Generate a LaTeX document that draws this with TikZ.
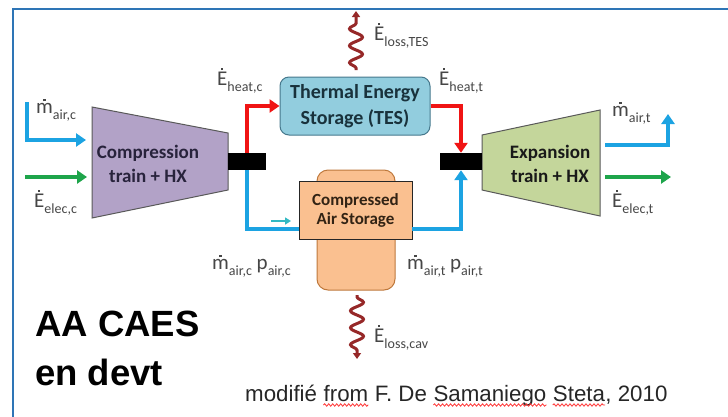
\documentclass[tikz,border=0pt]{standalone}
\usepackage{fontspec}
\setmainfont{Carlito}
\newfontfamily\arialf{Liberation Sans}
\usetikzlibrary{arrows.meta,decorations.pathmorphing}
\definecolor{framebl}{RGB}{46,117,182}
\definecolor{flowbl}{RGB}{28,163,226}
\definecolor{flowrd}{RGB}{240,20,20}
\definecolor{flowgr}{RGB}{30,165,75}
\definecolor{purp}{RGB}{178,162,199}
\definecolor{olive}{RGB}{196,214,155}
\definecolor{tesfill}{RGB}{146,205,222}
\definecolor{tesdraw}{RGB}{70,120,140}
\definecolor{casfill}{RGB}{250,192,144}
\definecolor{casdraw}{RGB}{190,120,60}
\definecolor{lossrd}{RGB}{150,40,40}
\definecolor{lblgray}{RGB}{70,70,70}
\definecolor{tealar}{RGB}{50,185,195}
\newcommand\dotm{\ooalign{m\cr\hidewidth\raisebox{0.56em}{\rule{2.3pt}{2.3pt}}\hidewidth\cr}}
\newcommand\dotE{\ooalign{E\cr\hidewidth\raisebox{0.74em}{\rule{2.3pt}{2.3pt}}\hidewidth\cr}}
\newcommand\lsb[1]{\raisebox{-0.3em}{\fontsize{14}{14}\selectfont #1}}
\begin{document}
\begin{tikzpicture}[x=1pt,y=-1pt,
  flow/.style={line width=4.5pt,-{Triangle[width=13pt,length=10pt]}},
  lbl/.style={inner sep=0pt,anchor=west,text=lblgray,font=\fontsize{21}{21}\selectfont},
  boxtxt/.style={inner sep=0pt,align=center,font=\bfseries\fontsize{19}{24}\selectfont},
  bar/.style={fill=black,draw=none,minimum height=17pt,inner sep=0pt},
  loss/.style={draw=lossrd,line width=3pt,decorate,decoration={snake,amplitude=6.5pt,segment length=17pt,pre length=2pt,post length=5pt},-{Triangle[width=8pt,length=6pt]}},
  credit/.style={inner sep=0pt,anchor=base west,font=\arialf\fontsize{22.3}{22.3}\selectfont,text=black!85},
  spell/.style={draw=red!80,line width=0.8pt,decorate,decoration={snake,amplitude=1.2pt,segment length=4pt}},
  big/.style={inner sep=0pt,anchor=base west,font=\arialf\bfseries\fontsize{36.5}{36.5}\selectfont}]
\useasboundingbox (0,0) rectangle (728,416);
% frame
\coordinate (frBL) at (13,420);
\coordinate (frTL) at (13,9);
\coordinate (frTR) at (732,9);
\draw[framebl,line width=2pt] (frBL) -- (frTL) -- (frTR);
% trapezoids
\coordinate (c1) at (92,107); \coordinate (c2) at (228,133);
\coordinate (c3) at (228,190); \coordinate (c4) at (92,218);
\draw[draw=black!65,fill=purp,line width=1pt] (c1) -- (c2) -- (c3) -- (c4) -- cycle;
\coordinate (e1) at (482,135); \coordinate (e2) at (600,110);
\coordinate (e3) at (600,216); \coordinate (e4) at (482,190);
\draw[draw=black!65,fill=olive,line width=1pt] (e1) -- (e2) -- (e3) -- (e4) -- cycle;
\node[boxtxt,text={rgb,255:red,40;green,35;blue,60}] (comp) at (148,164) {Compression\\train + HX};
\node[boxtxt,text=black!90] (expa) at (550,164) {Expansion\\train + HX};
% bars
\node[bar,minimum width=38pt] (barL) at (247,161.5) {};
\node[bar,minimum width=42pt] (barR) at (461,161.5) {};
% TES
\node[draw=tesdraw,fill=tesfill,rounded corners=9pt,line width=1pt,minimum width=150pt,minimum height=58pt,boxtxt,font=\bfseries\fontsize{20}{26}\selectfont,text={rgb,255:red,25;green,50;blue,60}] (tes) at (355,106) {Thermal Energy\\Storage (TES)};
% CAS
\node[draw=casdraw,fill=casfill,rounded corners=11pt,line width=1pt,minimum width=78pt,minimum height=120pt] (casback) at (356,230) {};
\node[draw=black!85,fill=casfill,line width=1pt,minimum width=113pt,minimum height=58pt,inner sep=0pt,align=center,font=\bfseries\fontsize{17}{19}\selectfont,text={rgb,255:red,50;green,35;blue,20}] (cas) at (355.5,210) {Compressed\\Air Storage};
% red heat flows
\draw[flow,flowrd] (barL.north) |- (tes.west);
\draw[flow,flowrd] (tes.east) -| (barR.north);
% blue air flows to/from storage
\coordinate (casInL) at (299,229);
\coordinate (casOutR) at (412,229);
\draw[flowbl,line width=4.5pt] (barL.south) |- (casInL);
\draw[flow,flowbl] (casOutR) -| (barR.south);
\coordinate (tealA) at (271,221); \coordinate (tealB) at (291,221);
\draw[tealar,line width=2.5pt,-{Triangle[width=7pt,length=6pt]}] (tealA) -- (tealB);
% left inputs
\coordinate (mairS) at (27,102); \coordinate (mairE) at (86,140);
\draw[flow,flowbl] (mairS) |- (mairE);
\coordinate (elcS) at (25,177); \coordinate (elcE) at (87,177);
\draw[flow,flowgr] (elcS) -- (elcE);
% right outputs
\coordinate (martS) at (605,145); \coordinate (martE) at (668,114);
\draw[flow,flowbl] (martS) -| (martE);
\coordinate (eltS) at (605,177); \coordinate (eltE) at (671,177);
\draw[flow,flowgr] (eltS) -- (eltE);
% losses
\coordinate (lt1) at (356,70); \coordinate (lt2) at (356,11);
\draw[loss] (lt1) -- (lt2);
\coordinate (lc1) at (357,295); \coordinate (lc2) at (357,359);
\draw[loss] (lc1) -- (lc2);
% labels
\node[lbl] (Lmairc) at (36,112) {\dotm\lsb{air,c}};
\node[lbl] (Lelecc) at (34,205) {\dotE\lsb{elec,c}};
\node[lbl] (Lheatc) at (217,83) {\dotE\lsb{heat,c}};
\node[lbl] (Lheatt) at (439,83) {\dotE\lsb{heat,t}};
\node[lbl] (Llosst) at (374,38) {\dotE\lsb{loss,TES}};
\node[lbl] (Lmairt) at (612,115) {\dotm\lsb{air,t}};
\node[lbl] (Lelect) at (612,205) {\dotE\lsb{elec,t}};
\node[lbl] (Lmpc) at (212,268) {\dotm\lsb{air,c} p\lsb{air,c}};
\node[lbl] (Lmpt) at (407,268) {\dotm\lsb{air,t} p\lsb{air,t}};
\node[lbl] (Llossc) at (374,340) {\dotE\lsb{loss,cav}};
% title
\node[big] (t1) at (35,336) {AA CAES};
\node[big] (t2) at (35,385) {en devt};
% credit
\node[credit] (w1) at (245,401) {modifié};
\node[credit] (w2) at ([xshift=6.2pt]w1.base east) {from};
\node[credit] (w3) at ([xshift=6.2pt]w2.base east) {F. De};
\node[credit] (w4) at ([xshift=6.2pt]w3.base east) {Samaniego};
\node[credit] (w5) at ([xshift=6.2pt]w4.base east) {Steta};
\node[credit] (w6) at (w5.base east) {, 2010};
\draw[spell] ([yshift=-4pt]w2.base west) -- ([yshift=-4pt]w2.base east);
\draw[spell] ([yshift=-4pt]w4.base west) -- ([yshift=-4pt]w4.base east);
\draw[spell] ([yshift=-4pt]w5.base west) -- ([yshift=-4pt]w5.base east);
\end{tikzpicture}
\end{document}
